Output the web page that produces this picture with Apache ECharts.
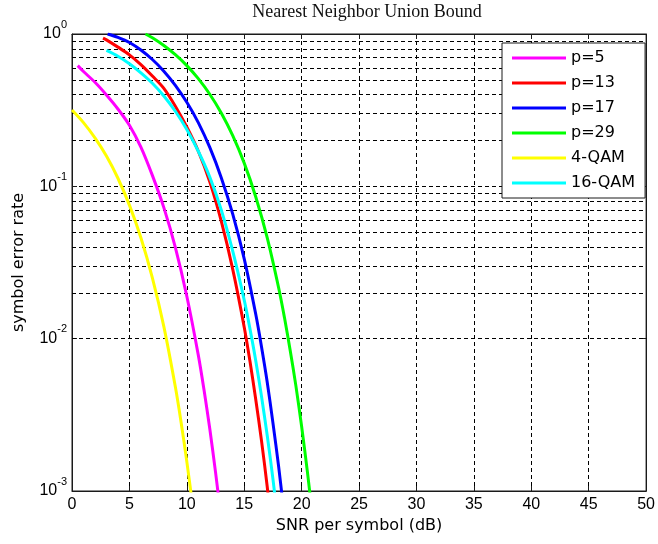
<!DOCTYPE html>
<html><head><meta charset="utf-8">
<script src="https://cdn.jsdelivr.net/npm/echarts@6/dist/echarts.min.js"></script>
<style>html,body{margin:0;padding:0;background:#fff}#c{width:658px;height:544px}</style>
</head><body><div id="c"></div>
<script>
const chartTitle = 'Nearest Neighbor Union Bound';
const xName = 'SNR per symbol (dB)';
const yName = 'symbol error rate';
const seriesNames = ['p=5', 'p=13', 'p=17', 'p=29', '4-QAM', '16-QAM'];
const seriesColors = ['#ff00ff', '#ff0000', '#0000ff', '#00ff00', '#ffff00', '#00ffff'];

const p5X = [0.5, 1, 2, 3, 4, 5, 6, 7, 8, 9, 10, 11, 11.5, 12, 12.5, 13];
const p5Y = [0.62, 0.567, 0.482, 0.398, 0.322, 0.252, 0.181, 0.118, 0.0725, 0.0398, 0.019, 0.0078, 0.0046, 0.00256, 0.00133, 0.00065];

const p13X = [2.7, 3, 4, 5, 6, 7, 8, 9, 10, 11, 12, 13, 14, 15, 15.5, 16, 16.5, 17, 17.5];
const p13Y = [0.94, 0.915, 0.82, 0.73, 0.63, 0.53, 0.44, 0.336, 0.245, 0.17, 0.107, 0.059, 0.0285, 0.0119, 0.0071, 0.0040, 0.00215, 0.00107, 0.00049];

const p17X = [3.1, 4, 5, 6, 7, 8, 9, 10, 11, 12, 13, 14, 15, 16, 16.5, 17, 17.5, 18, 18.5];
const p17Y = [1.0, 0.95, 0.88, 0.785, 0.68, 0.57, 0.46, 0.356, 0.262, 0.18, 0.114, 0.0657, 0.0334, 0.0145, 0.0089, 0.0052, 0.0028, 0.00144, 0.00068];

const p29X = [6.4, 7, 8, 9, 10, 11, 12, 13, 14, 15, 16, 17, 18, 18.5, 19, 19.5, 20, 20.5, 21];
const p29Y = [1.0, 0.944, 0.84, 0.731, 0.62, 0.509, 0.402, 0.303, 0.215, 0.142, 0.0855, 0.046, 0.0215, 0.0138, 0.0084, 0.0049, 0.00265, 0.00134, 0.00063];

const qam4X = [0, 1, 2, 3, 4, 5, 6, 7, 8, 9, 9.5, 10, 10.5];
const qam4Y = [0.317, 0.262, 0.208, 0.158, 0.113, 0.0753, 0.046, 0.0251, 0.012, 0.00483, 0.00283, 0.00156, 0.00081];

const qam16X = [3, 4, 5, 6, 7, 8, 9, 10, 11, 12, 13, 14, 15, 15.5, 16, 16.5, 17, 17.5, 18];
const qam16Y = [0.78, 0.715, 0.638, 0.556, 0.475, 0.392, 0.311, 0.236, 0.17, 0.115, 0.07, 0.0375, 0.0179, 0.0116, 0.0072, 0.0042, 0.00232, 0.0012, 0.00057];

const xMin = 0, xMax = 50, xStep = 5;
const yMin = 0.001, yMax = 1;
const yMinorGrid = [0.002, 0.003, 0.004, 0.005, 0.006, 0.007, 0.008, 0.009,
                    0.02, 0.03, 0.04, 0.05, 0.06, 0.07, 0.08, 0.09,
                    0.2, 0.3, 0.4, 0.5, 0.6, 0.7, 0.8, 0.9];

const allX = [p5X, p13X, p17X, p29X, qam4X, qam16X];
const allY = [p5Y, p13Y, p17Y, p29Y, qam4Y, qam16Y];

const sans = 'Liberation Sans';
const dash = [4, 3];
const axisColor = '#1a1a1a';

const series = seriesNames.map((name, i) => {
  const s = {
    name: name,
    type: 'line',
    xAxisIndex: 0,
    yAxisIndex: 0,
    data: allX[i].map((x, j) => [x, allY[i][j]]),
    symbol: 'none',
    showSymbol: false,
    smooth: 0.3,
    clip: true,
    lineStyle: { color: seriesColors[i], width: 3 },
    itemStyle: { color: seriesColors[i] },
    z: 3 + i,
    animation: false
  };
  if (i === 0) {
    s.markLine = {
      silent: true,
      symbol: ['none', 'none'],
      label: { show: false },
      lineStyle: { type: dash, color: '#000', width: 1 },
      emphasis: { disabled: true },
      animation: false,
      z: 1,
      data: yMinorGrid.map(v => ({ yAxis: v }))
    };
  }
  return s;
});

const yLabelFmt = v => {
  const e = Math.round(Math.log10(v));
  return '{b|10}{s|' + e + '}';
};

const option = {
  backgroundColor: '#fff',
  animation: false,
  title: {
    text: chartTitle,
    left: 367, top: 3, padding: 0, textAlign: 'center',
    textStyle: { fontFamily: 'Liberation Serif', fontSize: 18, fontWeight: 'normal', color: '#111' }
  },
  grid: { left: 72, right: 7, top: 34, bottom: 53, show: true, borderColor: axisColor, borderWidth: 1, backgroundColor: '#fff' },
  legend: {
    orient: 'vertical', left: 502, top: 43,
    padding: [7, 10, 7, 10], itemGap: 9, itemWidth: 54, itemHeight: 3,
    icon: 'rect',
    backgroundColor: '#fff', borderColor: axisColor, borderWidth: 1,
    textStyle: { fontFamily: 'DejaVu Sans', fontSize: 16, lineHeight: 16, color: '#000' },
    data: seriesNames.map((n, i) => ({ name: n, icon: 'rect', itemStyle: { color: seriesColors[i] } }))
  },
  xAxis: [{
    type: 'value', min: xMin, max: xMax, interval: xStep, position: 'bottom',
    axisLine: { show: true, onZero: false, lineStyle: { color: axisColor, width: 1 } },
    axisTick: { show: true, inside: true, length: 5, lineStyle: { color: axisColor } },
    axisLabel: { fontFamily: sans, fontSize: 16, color: '#000', margin: 6 },
    splitLine: { show: true, lineStyle: { type: dash, color: '#000', width: 1 } },
    name: xName, nameLocation: 'middle', nameGap: 26,
    nameTextStyle: { fontFamily: 'DejaVu Sans', fontSize: 16, color: '#000' }
  }, {
    type: 'value', min: xMin, max: xMax, interval: xStep, position: 'top',
    axisLine: { show: true, onZero: false, lineStyle: { color: axisColor, width: 1 } },
    axisTick: { show: true, inside: true, length: 5, lineStyle: { color: axisColor } },
    axisLabel: { show: false }, splitLine: { show: false }
  }],
  yAxis: [{
    type: 'log', logBase: 10, min: yMin, max: yMax, position: 'left',
    axisLine: { show: true, onZero: false, lineStyle: { color: axisColor, width: 1 } },
    axisTick: { show: true, inside: true, length: 5, lineStyle: { color: axisColor } },
    axisLabel: {
      formatter: yLabelFmt, margin: 5,
      rich: {
        b: { fontFamily: sans, fontSize: 16, lineHeight: 30, color: '#000' },
        s: { fontFamily: sans, fontSize: 11, lineHeight: 12, verticalAlign: 'top', color: '#000' }
      }
    },
    splitLine: { show: true, lineStyle: { type: dash, color: '#000', width: 1 } },
    name: yName, nameLocation: 'middle', nameGap: 45,
    nameTextStyle: { fontFamily: 'DejaVu Sans', fontSize: 16, color: '#000' }
  }, {
    type: 'log', logBase: 10, min: yMin, max: yMax, position: 'right',
    axisLine: { show: true, onZero: false, lineStyle: { color: axisColor, width: 1 } },
    axisTick: { show: true, inside: true, length: 5, lineStyle: { color: axisColor } },
    axisLabel: { show: false }, splitLine: { show: false }
  }],
  series: series
};

const chart = echarts.init(document.getElementById('c'), null, { renderer: 'canvas' });
chart.setOption(option);
</script>
</body></html>
